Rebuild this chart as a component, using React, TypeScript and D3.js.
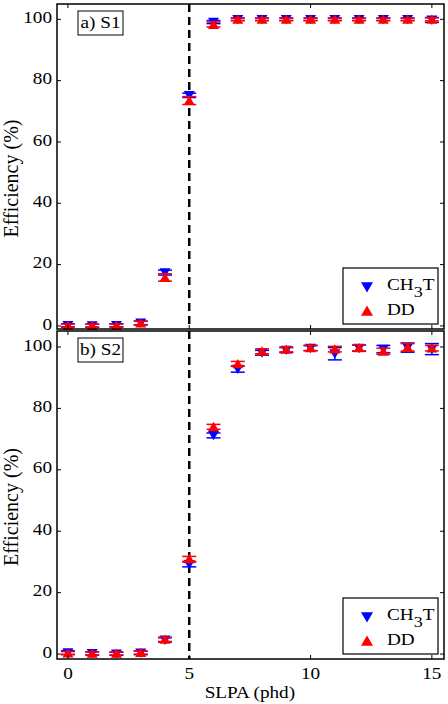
import React from "react";
import * as d3 from "d3";

// SLPA thresholds (phd)
const slpa = [0, 1, 2, 3, 4, 5, 6, 7, 8, 9, 10, 11, 12, 13, 14, 15];

// Panel a) S1 efficiencies (%) and errors
const s1Ch3t = [0.2, 0.1, 0.2, 1.0, 17.4, 75.2, 99.1, 100, 100, 100, 100, 100, 100, 100, 100, 99.8];
const s1Ch3tErr = [0.5, 0.5, 0.5, 0.6, 0.8, 0.7, 0.5, 0.4, 0.4, 0.4, 0.4, 0.4, 0.4, 0.4, 0.4, 0.8];
const s1Dd = [0.1, 0.1, 0.1, 0.9, 15.8, 73.5, 98.3, 100, 100, 100, 100, 100, 100, 100, 100, 100];
const s1DdErr = [0.5, 0.5, 0.5, 0.6, 1.2, 1.3, 0.8, 0.4, 0.4, 0.4, 0.4, 0.4, 0.4, 0.4, 0.4, 0.5];

// Panel b) S2 efficiencies (%) and errors
const s2Ch3t = [0.5, 0.2, 0.1, 0.4, 4.6, 29.2, 71.2, 92.8, 98.1, 99.0, 99.6, 97.8, 99.6, 99.3, 99.8, 99.3];
const s2Ch3tErr = [0.6, 0.5, 0.5, 0.6, 0.7, 0.8, 0.8, 1.0, 0.8, 0.8, 0.8, 2.0, 1.0, 1.2, 1.5, 1.8];
const s2Dd = [0.3, 0.2, 0.2, 0.5, 4.8, 31.0, 74.0, 94.5, 98.6, 99.2, 99.7, 99.3, 99.7, 98.6, 99.9, 99.6];
const s2DdErr = [0.5, 0.5, 0.5, 0.5, 0.7, 0.8, 0.8, 0.8, 0.8, 0.8, 0.9, 0.9, 1.0, 1.0, 1.2, 0.9];

const xTicks = [0, 5, 10, 15];
const yTicks = [0, 20, 40, 60, 80, 100];
const cutLine = 5;

const FONT = "Liberation Serif";
const BLUE = "#0000ff";
const RED = "#ff0000";
// glyphs are drawn slightly wide
const SX = 1.2;

const LEFT = 57;
const RIGHT = 444;

const x = d3.scaleLinear().domain([-0.45, 15.5]).range([LEFT, RIGHT]);

type PanelProps = {
  top: number;
  bottom: number;
  yDomain: [number, number];
  label: string;
  ch3t: number[];
  ch3tErr: number[];
  dd: number[];
  ddErr: number[];
  showXLabels: boolean;
};

function Label({ x: tx, y: ty, anchor = "start", size = 16, rotate = 0, sx = SX, children }: { x: number; y: number; anchor?: string; size?: number; rotate?: number; sx?: number; children: React.ReactNode }) {
  return (
    <g transform={`translate(${tx},${ty}) scale(${sx},1) rotate(${rotate})`}>
      <text textAnchor={anchor} dominantBaseline="middle" fontSize={size} fontFamily={FONT} fill="#000">
        {children}
      </text>
    </g>
  );
}

const triDown = (cx: number, cy: number, s = 5.5) =>
  `M${cx - s},${cy - s * 0.8}L${cx + s},${cy - s * 0.8}L${cx},${cy + s * 0.9}Z`;
const triUp = (cx: number, cy: number, s = 5.5) =>
  `M${cx - s},${cy + s * 0.8}L${cx + s},${cy + s * 0.8}L${cx},${cy - s * 0.9}Z`;

function ErrorSeries({ vals, errs, y, color, up }: { vals: number[]; errs: number[]; y: d3.ScaleLinear<number, number>; color: string; up: boolean }) {
  const cap = 7;
  return (
    <g>
      {vals.map((v, i) => {
        const cx = x(slpa[i]);
        const y0 = y(v - errs[i]);
        const y1 = y(v + errs[i]);
        return (
          <g key={i}>
            <line x1={cx} x2={cx} y1={y0} y2={y1} stroke={color} strokeWidth={1.5} />
            <line x1={cx - cap} x2={cx + cap} y1={y0} y2={y0} stroke={color} strokeWidth={1.5} />
            <line x1={cx - cap} x2={cx + cap} y1={y1} y2={y1} stroke={color} strokeWidth={1.5} />
            <path d={up ? triUp(cx, y(v)) : triDown(cx, y(v))} fill={color} />
          </g>
        );
      })}
    </g>
  );
}

function Panel(p: PanelProps) {
  const y = d3.scaleLinear().domain(p.yDomain).range([p.bottom, p.top]);
  const tick = 4;
  const legTop = p.bottom - 61;
  return (
    <g>
      {/* threshold marker */}
      <line
        x1={x(cutLine)}
        x2={x(cutLine)}
        y1={p.top}
        y2={p.bottom}
        stroke="#000"
        strokeWidth={2.5}
        strokeDasharray="8,5"
      />
      <ErrorSeries vals={p.ch3t} errs={p.ch3tErr} y={y} color={BLUE} up={false} />
      <ErrorSeries vals={p.dd} errs={p.ddErr} y={y} color={RED} up={true} />

      {/* frame with inward ticks */}
      <rect x={LEFT} y={p.top} width={RIGHT - LEFT} height={p.bottom - p.top} fill="none" stroke="#000" strokeWidth={1.5} />
      {xTicks.map((t) => (
        <g key={"x" + t}>
          <line x1={x(t)} x2={x(t)} y1={p.bottom} y2={p.bottom - tick} stroke="#000" strokeWidth={1} />
          <line x1={x(t)} x2={x(t)} y1={p.top} y2={p.top + tick} stroke="#000" strokeWidth={1} />
          {p.showXLabels && (
            <Label x={x(t)} y={p.bottom + 16} anchor="middle">
              {t}
            </Label>
          )}
        </g>
      ))}
      {yTicks.map((t) => (
        <g key={"y" + t}>
          <line x1={LEFT} x2={LEFT + tick} y1={y(t)} y2={y(t)} stroke="#000" strokeWidth={1} />
          <line x1={RIGHT} x2={RIGHT - tick} y1={y(t)} y2={y(t)} stroke="#000" strokeWidth={1} />
          <Label x={52} y={y(t)} anchor="end">
            {t}
          </Label>
        </g>
      ))}

      <Label x={13} y={(p.top + p.bottom) / 2 + 12} anchor="middle" rotate={-90} size={20} sx={1}>
        Efficiency (%)
      </Label>

      {/* panel tag */}
      <rect x={78} y={p.top + 7} width={45} height={24} fill="#fff" stroke="#000" strokeWidth={1} />
      <Label x={100.5} y={p.top + 20} anchor="middle">
        {p.label}
      </Label>

      {/* legend */}
      <rect x={343} y={legTop} width={95} height={56} fill="#fff" stroke="#000" strokeWidth={1.2} />
      <path d={triDown(367, legTop + 19, 6)} fill={BLUE} />
      <Label x={387} y={legTop + 18}>
        CH<tspan dy={7} fontSize={15}>3</tspan>
        <tspan dy={-7}>T</tspan>
      </Label>
      <path d={triUp(367, legTop + 43, 6)} fill={RED} />
      <Label x={387} y={legTop + 43}>
        DD
      </Label>
    </g>
  );
}

export default function App() {
  return (
    <svg width={448} height={704} style={{ position: "absolute", left: 0, top: 0, background: "#fff" }}>
      <rect width={448} height={704} fill="#fff" />
      <Panel top={4} bottom={329} yDomain={[-1, 105]} label="a) S1" ch3t={s1Ch3t} ch3tErr={s1Ch3tErr} dd={s1Dd} ddErr={s1DdErr} showXLabels={false} />
      <Panel top={331} bottom={659} yDomain={[-1.6, 105.2]} label="b) S2" ch3t={s2Ch3t} ch3tErr={s2Ch3tErr} dd={s2Dd} ddErr={s2DdErr} showXLabels={true} />
      <Label x={x(7.5)} y={694} anchor="middle">
        SLPA (phd)
      </Label>
    </svg>
  );
}
